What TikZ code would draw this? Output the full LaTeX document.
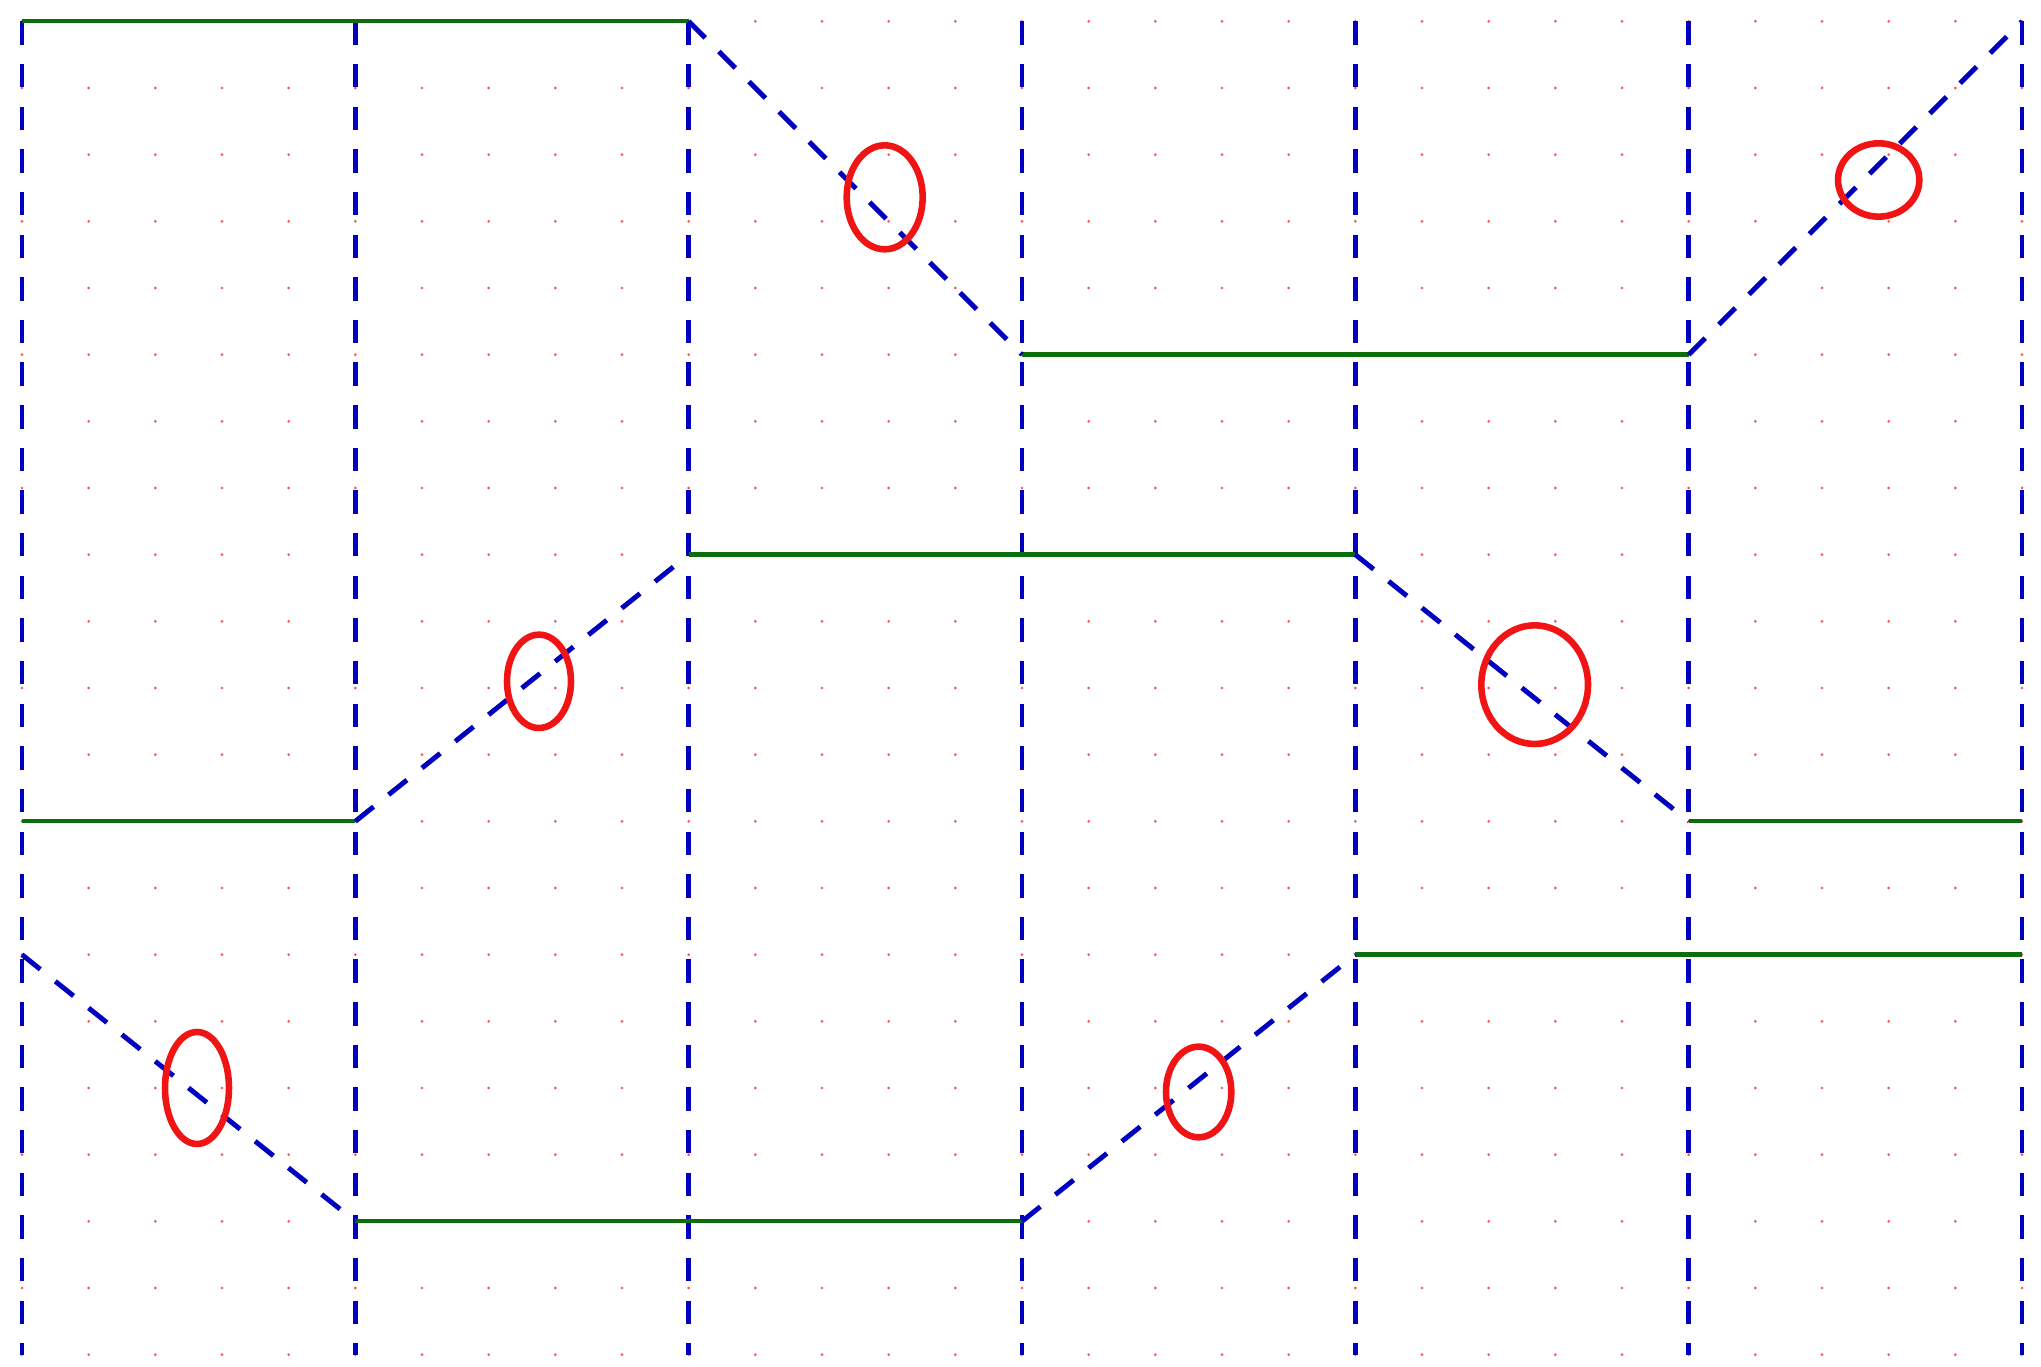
\documentclass[tikz,border=0pt]{standalone}
\usepackage{xcolor,tikz}
\usetikzlibrary{calc}
\definecolor{dotred}{HTML}{FF4D4D}
\definecolor{wire}{HTML}{0000BE}
\definecolor{level}{HTML}{0B6E0B}
\definecolor{ringred}{HTML}{F01414}
\tikzset{guide/.style={wire,line width=2.1pt,dash pattern=on 10pt off 8.2pt},
slope/.style={wire,line width=2.1pt,dash pattern=on 10pt off 8.2pt},
flat/.style={level,line width=1.85pt},
hoop/.style={draw=ringred,line width=2.8pt}}

\begin{document}
\begin{tikzpicture}[x=1cm,y=1cm]
\useasboundingbox (-.33,-.18) rectangle (30.285,20.32);
% dot grid
\foreach \i in {0,...,30}
  \foreach \j in {0,...,20}
    \fill[dotred] (\i,\j) circle (.022);
\foreach \x in {0,5,...,30}
  \draw[guide] (\x,20)--(\x,0);
% flat parts of the three traces
\foreach \a/\b/\y in {0/10/20,15/25/15,0/5/8,10/20/12,25/30/8,5/15/2,20/30/6}
  \draw[flat] (\a,\y)--(\b,\y);
% ramps
\foreach \xa/\ya/\xb/\yb in {10/20/15/15,25/15/30/20,5/8/10/12,20/12/25/8,0/6/5/2,15/2/20/6}
  \draw[slope] (\xa,\ya)--(\xb,\yb);
% marked ramps
\foreach \cx/\cy/\rx/\ry in {12.94/17.36/.57/.78,27.85/17.62/.61/.55,7.755/10.1/.48/.70,
  22.69/10.05/.80/.89,2.625/4.0/.48/.84,17.65/3.94/.49/.68}
  \draw[hoop] (\cx,\cy) ellipse [x radius=\rx,y radius=\ry];
\end{tikzpicture}
\end{document}
